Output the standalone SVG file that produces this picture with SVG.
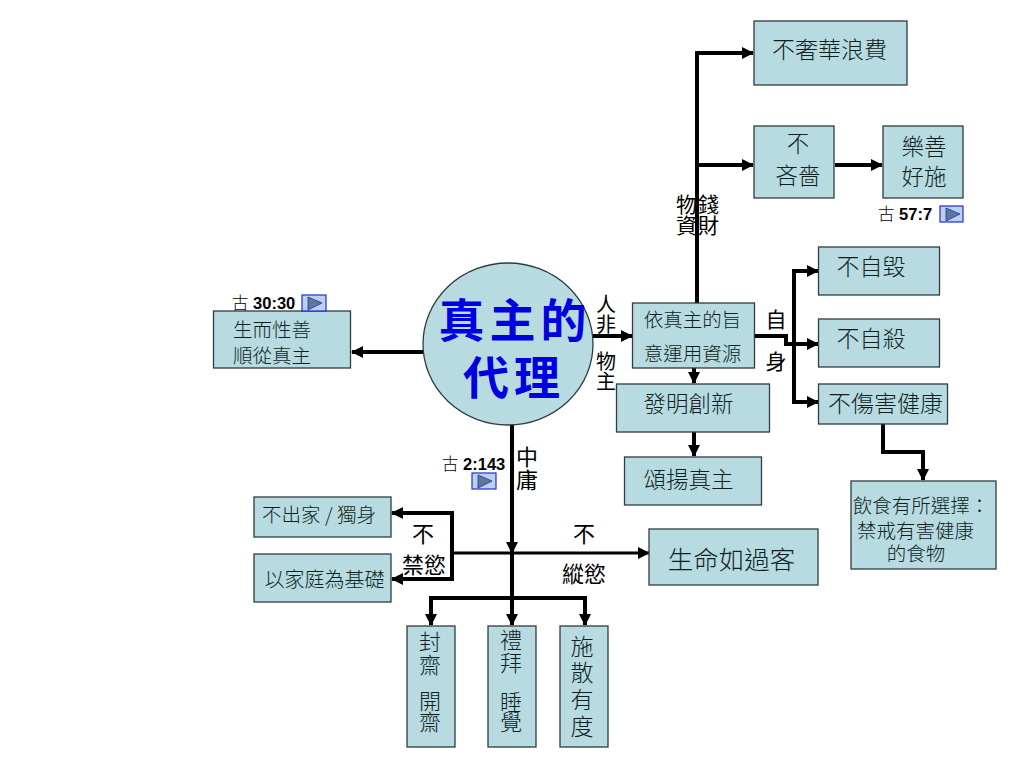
<svg xmlns="http://www.w3.org/2000/svg" width="1024" height="768" viewBox="0 0 1024 768">
<style>
.b{fill:#b7dbe1;stroke:#2f3c40;stroke-width:1.3}
text{font-family:"Noto Sans CJK TC","Noto Sans CJK SC",sans-serif;text-anchor:middle;font-weight:300}
.t{fill:#0f1f22}
.k{fill:#000;font-weight:400}
.ref{font-family:"Liberation Sans","Noto Sans CJK TC",sans-serif;font-size:16.5px;font-weight:700;fill:#000;text-anchor:start}
.c{fill:none;stroke:#000;stroke-width:4;stroke-linejoin:miter}
.a{fill:#000}
.pb{fill:#b7d3ea;stroke:#2a2ad0;stroke-width:1.2}
.pt{fill:#5f7894;stroke:#2a2ad0;stroke-width:.8}
.h{font-size:46px;font-weight:700;letter-spacing:5px;fill:#0000e0}
</style>
<defs>
<marker id="ah" markerUnits="userSpaceOnUse" markerWidth="13" markerHeight="13" refX="11" refY="6.500" orient="auto"><path d="M0 0.500L12 6.500L0 12.500Z" class="a"/></marker>
</defs>
<g id="connectors">
<path class="c" d="M697 306V53H753" marker-end="url(#ah)"/>
<path class="c" d="M697 165H753" marker-end="url(#ah)"/>
<path class="c" d="M835 165H882" marker-end="url(#ah)"/>
<path class="c" d="M424 352H352" marker-end="url(#ah)"/>
<path class="c" d="M592 336H632" marker-end="url(#ah)"/>
<path class="c" d="M694 368V383" marker-end="url(#ah)"/>
<path class="c" d="M694 432V456" marker-end="url(#ah)"/>
<path class="c" d="M755 336H786V344H818" marker-end="url(#ah)"/>
<path class="c" d="M794 344V271H818" marker-end="url(#ah)"/>
<path class="c" d="M794 344V402H818" marker-end="url(#ah)"/>
<path class="c" d="M883 424V452H923V480" marker-end="url(#ah)"/>
<path class="c" d="M512 424V553" marker-end="url(#ah)"/>
<path class="c" d="M512 553V625" marker-end="url(#ah)"/>
<path class="c" d="M452 553H649" style="stroke-width:3" marker-end="url(#ah)"/>
<path class="c" d="M452 553V513H392" marker-end="url(#ah)"/>
<path class="c" d="M452 553V579H392" marker-end="url(#ah)"/>
<path class="c" d="M512 598H431V625" marker-end="url(#ah)"/>
<path class="c" d="M512 598H585V625" marker-end="url(#ah)"/>
</g>
<g id="n-center"><ellipse class="b" cx="508" cy="344" rx="85" ry="81"/>
<text class="h" x="515" y="337">真主的</text>
<text class="h" x="514" y="394">代理</text></g>
<g id="n-born"><rect class="b" x="213.500" y="311" width="137" height="57"/>
<text class="t" x="272" y="337" font-size="19.500">生而性善</text><text class="t" x="272" y="363" font-size="19.500">順從真主</text></g>
<g id="n-luxury"><rect class="b" x="754" y="21" width="153" height="64"/><text class="t" x="829.500" y="58" font-size="23">不奢華浪費</text></g>
<g id="n-stingy"><rect class="b" x="754" y="126" width="80" height="72"/><text class="t" x="798" y="152" font-size="22.500">不</text><text class="t" x="798" y="184" font-size="22.500">吝嗇</text></g>
<g id="n-charity"><rect class="b" x="883" y="126" width="80" height="72"/><text class="t" x="924" y="155" font-size="22.500">樂善</text><text class="t" x="924" y="185" font-size="22.500">好施</text></g>
<g id="n-use"><rect class="b" x="632.500" y="303" width="122" height="65"/><text class="t" x="692.500" y="327" font-size="19.500">依真主的旨</text><text class="t" x="692.500" y="361" font-size="19.500">意運用資源</text></g>
<g id="n-invent"><rect class="b" x="616.500" y="384" width="153" height="48"/><text class="t" x="688.500" y="412" font-size="22.500">發明創新</text></g>
<g id="n-praise"><rect class="b" x="624.500" y="457" width="137" height="48"/><text class="t" x="688.500" y="488" font-size="22.500">頌揚真主</text></g>
<g id="n-noharm"><rect class="b" x="818.500" y="247" width="121" height="48"/><text class="t" x="871" y="275" font-size="23">不自毀</text></g>
<g id="n-nosuicide"><rect class="b" x="818.500" y="319" width="121" height="48"/><text class="t" x="871" y="347" font-size="23">不自殺</text></g>
<g id="n-health"><rect class="b" x="818.500" y="384" width="129" height="40"/><text class="t" x="885.500" y="412" font-size="23">不傷害健康</text></g>
<g id="n-diet"><rect class="b" x="851" y="481" width="145" height="88"/><text class="t" x="921" y="513" font-size="19.500">飲食有所選擇：</text><text class="t" x="915.500" y="538" font-size="19.500">禁戒有害健康</text><text class="t" x="916" y="561" font-size="19.500">的食物</text></g>
<g id="n-guest"><rect class="b" x="649" y="529" width="169" height="56"/><text class="t" x="731.500" y="569" font-size="25.500">生命如過客</text></g>
<g id="n-celibacy"><rect class="b" x="254" y="497" width="137" height="40"/><text class="t" x="319" y="522" font-size="19.500">不出家 / 獨身</text></g>
<g id="n-family"><rect class="b" x="254" y="554" width="137" height="48"/><text class="t" x="324.500" y="587" font-size="20">以家庭為基礎</text></g>
<g id="n-fast"><rect class="b" x="407" y="626" width="48" height="121"/><text class="t" font-size="22" x="430" y="650">封<tspan x="430" dy="23">齋</tspan><tspan x="430" dy="36">開</tspan><tspan x="430" dy="21">齋</tspan></text></g>
<g id="n-prayer"><rect class="b" x="488" y="626" width="48" height="121"/><text class="t" font-size="22" x="511" y="648">禮<tspan x="511" dy="23">拜</tspan><tspan x="511" dy="39">睡</tspan><tspan x="511" dy="20">覺</tspan></text></g>
<g id="n-give"><rect class="b" x="560" y="626" width="48" height="121"/><text class="t" font-size="23" x="582" y="655">施<tspan x="582" dy="26">散</tspan><tspan x="582" dy="27">有</tspan><tspan x="582" dy="27">度</tspan></text></g>
<g id="labels">
<text class="k" font-size="21" style="text-anchor:start" x="676 698" y="212">物錢<tspan x="676 698" y="233">資財</tspan></text>
<text class="k" x="606" y="312" font-size="20">人<tspan x="606" dy="20">非</tspan></text>
<text class="k" x="606" y="369" font-size="20">物<tspan x="606" dy="20">主</tspan></text>
<text class="k" x="776" y="327" font-size="21">自<tspan x="776" dy="42">身</tspan></text>
<text class="k" x="527" y="465" font-size="22">中<tspan x="527" dy="23">庸</tspan></text>
<text class="k" x="423" y="542" font-size="22">不</text><text class="k" x="424" y="573" font-size="22">禁慾</text>
<text class="k" x="584" y="542" font-size="22">不</text><text class="k" x="584" y="582" font-size="22">縱慾</text>
</g>
<g id="ref-30"><text class="ref" x="232" y="309"><tspan font-weight="300">古 </tspan>30:30</text><rect class="pb" x="302" y="295" width="24" height="16"/><path class="pt" d="M308 297L322 303L308 310Z"/></g>
<g id="ref-57"><text class="ref" x="878" y="220"><tspan font-weight="300">古 </tspan>57:7</text><rect class="pb" x="940" y="206" width="23" height="16"/><path class="pt" d="M946 208L960 214L946 221Z"/></g>
<g id="ref-2"><text class="ref" x="442" y="470"><tspan font-weight="300">古 </tspan>2:143</text><rect class="pb" x="472" y="473" width="24" height="16"/><path class="pt" d="M478 475L492 481L478 488Z"/></g>
</svg>
